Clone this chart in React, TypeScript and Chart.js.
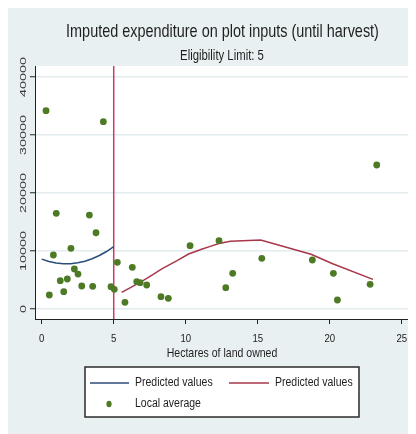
import React, { useEffect, useRef } from 'react';
import { Chart, registerables } from 'chart.js';

Chart.register(...registerables);

const TITLE = 'Imputed expenditure on plot inputs (until harvest)';
const SUBTITLE = 'Eligibility Limit: 5';
const X_TITLE = 'Hectares of land owned';
const ELIGIBILITY_LIMIT = 5;
const X_TICKS = [0, 5, 10, 15, 20, 25];
const Y_TICKS = [0, 10000, 20000, 30000, 40000];

const LEGEND_LABELS = ['Predicted values', 'Predicted values', 'Local average'];

// Local average (scatter)
const localAvgX = [0.3, 4.28, 1.01, 3.31, 3.77, 2.03, 0.81, 5.25, 2.27, 2.52, 1.29, 1.78, 2.78, 3.54, 4.81, 5.04, 1.53, 0.53, 5.78, 6.29, 6.6, 6.83, 7.29, 8.28, 8.79, 10.3, 12.31, 12.78, 13.26, 15.28, 18.79, 20.25, 20.53, 22.8, 23.26];
const localAvgY = [34200, 32300, 16500, 16200, 13150, 10460, 9310, 8050, 6900, 6030, 4880, 5170, 3970, 3910, 3850, 3390, 2990, 2410, 1150, 7190, 4710, 4540, 4140, 2130, 1840, 10920, 11780, 3680, 6150, 8740, 8450, 6150, 1550, 4260, 24830];

// Predicted values, below the limit
const predLeftX = [0, 0.5, 1, 1.5, 2, 2.5, 3, 3.5, 4, 4.5, 5];
const predLeftY = [8600, 8200, 7940, 7810, 7820, 7970, 8250, 8670, 9220, 9910, 10740];

// Predicted values, above the limit
const predRightX = [5.55, 6.7, 7.3, 8.4, 9.4, 10.2, 11.1, 11.7, 12.3, 13.1, 15.2, 18.7, 20.2, 23.0];
const predRightY = [2870, 4430, 5290, 7010, 8330, 9480, 10290, 10800, 11300, 11700, 11900, 9430, 7800, 5100];

const BG = '#e8f0f2';
const BLUE = '#2b4d78';
const RED = '#a8374a';
const GREEN = '#4e7a26';
const VLINE = '#cc3a5e';
const FONT = "'Liberation Sans', Arial, sans-serif";

const toPts = (xs: number[], ys: number[]) => xs.map((x, i) => ({ x, y: ys[i] }));

function txt(
  ctx: CanvasRenderingContext2D,
  text: string,
  x: number,
  y: number,
  size: number,
  sx: number,
  sy: number,
  align: CanvasTextAlign,
  baseline: CanvasTextBaseline,
  color: string,
  rot = 0,
) {
  ctx.save();
  ctx.translate(x, y);
  if (rot) ctx.rotate(rot);
  ctx.scale(sx, sy);
  ctx.font = `${size}px ${FONT}`;
  ctx.textAlign = align;
  ctx.textBaseline = baseline;
  ctx.fillStyle = color;
  ctx.fillText(text, 0, 0);
  ctx.restore();
}

const decoPlugin = {
  id: 'deco',
  beforeDraw(chart: any) {
    const { ctx, chartArea: a, width, height } = chart;
    ctx.save();
    ctx.fillStyle = BG;
    ctx.fillRect(0, 0, width, height);
    ctx.fillStyle = '#ffffff';
    ctx.fillRect(a.left, a.top, a.right - a.left, a.bottom - a.top);
    ctx.restore();
  },
  beforeDatasetsDraw(chart: any) {
    const { ctx, chartArea: a, scales } = chart;
    const x = scales.x.getPixelForValue(ELIGIBILITY_LIMIT);
    ctx.save();
    ctx.strokeStyle = VLINE;
    ctx.lineWidth = 1.5;
    ctx.beginPath();
    ctx.moveTo(x, a.top);
    ctx.lineTo(x, a.bottom);
    ctx.stroke();
    ctx.restore();
  },
  afterDraw(chart: any) {
    const { ctx, chartArea: a, scales } = chart;
    const ds = chart.data.datasets;

    // titles
    txt(ctx, TITLE, 214.5, 30.7, 18.5, 0.78, 1, 'center', 'alphabetic', '#1f1f1f');
    txt(ctx, SUBTITLE, 214, 54, 14, 0.81, 1, 'center', 'alphabetic', '#1f1f1f');

    // x tick labels
    X_TICKS.forEach((v) => {
      txt(ctx, String(v), scales.x.getPixelForValue(v), 335.7, 11.6, 0.83, 1, 'center', 'alphabetic', '#222');
    });
    // y tick labels (rotated, squeezed across the text)
    Y_TICKS.forEach((v) => {
      txt(ctx, String(v), 18, scales.y.getPixelForValue(v), 14.4, 1, 0.66, 'center', 'alphabetic', '#3a3a3a', -Math.PI / 2);
    });
    // x axis title
    txt(ctx, X_TITLE, (a.left + a.right) / 2, 350.7, 13.5, 0.78, 1, 'center', 'alphabetic', '#1f1f1f');

    // legend box
    ctx.save();
    const bx = 77, by = 361, bw = 274, bh = 50;
    ctx.fillStyle = '#ffffff';
    ctx.fillRect(bx, by, bw, bh);
    ctx.strokeStyle = '#2a2a2a';
    ctx.lineWidth = 1.5;
    ctx.strokeRect(bx, by, bw, bh);

    const r1 = 377, r2 = 398;
    ctx.lineWidth = 1.5;
    ctx.strokeStyle = ds[0].borderColor;
    ctx.beginPath(); ctx.moveTo(82, r1); ctx.lineTo(121, r1); ctx.stroke();
    ctx.strokeStyle = ds[1].borderColor;
    ctx.beginPath(); ctx.moveTo(221, r1); ctx.lineTo(261, r1); ctx.stroke();
    ctx.fillStyle = ds[2].backgroundColor;
    ctx.beginPath(); ctx.ellipse(101, r2, 2.6, 3.2, 0, 0, Math.PI * 2); ctx.fill();
    ctx.restore();

    txt(ctx, LEGEND_LABELS[0], 127, r1, 12.5, 0.84, 1, 'left', 'middle', '#1f1f1f');
    txt(ctx, LEGEND_LABELS[1], 267, r1, 12.5, 0.84, 1, 'left', 'middle', '#1f1f1f');
    txt(ctx, LEGEND_LABELS[2], 127, r2, 12.5, 0.84, 1, 'left', 'middle', '#1f1f1f');
  },
};

export default function App() {
  const ref = useRef<HTMLCanvasElement>(null);
  useEffect(() => {
    if (!ref.current) return;
    Chart.defaults.font.family = FONT;
    const chart = new Chart(ref.current, {
      type: 'scatter',
      data: {
        datasets: [
          {
            label: LEGEND_LABELS[0],
            data: toPts(predLeftX, predLeftY),
            showLine: true,
            borderColor: BLUE,
            backgroundColor: BLUE,
            borderWidth: 1.5,
            pointRadius: 0,
            tension: 0,
            order: 1,
          },
          {
            label: LEGEND_LABELS[1],
            data: toPts(predRightX, predRightY),
            showLine: true,
            borderColor: RED,
            backgroundColor: RED,
            borderWidth: 1.5,
            pointRadius: 0,
            tension: 0,
            order: 1,
          },
          {
            label: LEGEND_LABELS[2],
            data: toPts(localAvgX, localAvgY),
            showLine: false,
            borderColor: GREEN,
            backgroundColor: GREEN,
            borderWidth: 0,
            pointRadius: 3.4,
            order: 0,
          },
        ],
      },
      options: {
        responsive: false,
        animation: false,
        devicePixelRatio: 1,
        layout: { padding: { top: 60, left: 0, right: 7, bottom: 70 } },
        plugins: {
          legend: { display: false },
          title: { display: false },
          tooltip: { enabled: false },
        },
        scales: {
          x: {
            type: 'linear',
            min: -0.465,
            max: 25.5,
            afterBuildTicks: (s: any) => { s.ticks = X_TICKS.map((v) => ({ value: v })); },
            afterFit: (s: any) => { s.height = 45; },
            grid: { drawOnChartArea: false, drawTicks: true, tickLength: 5, tickColor: '#222', tickWidth: 1 },
            border: { display: true, color: '#222', width: 1 },
            ticks: { display: false },
          },
          y: {
            type: 'linear',
            min: -1724,
            max: 41900,
            afterBuildTicks: (s: any) => { s.ticks = Y_TICKS.map((v) => ({ value: v })); },
            afterFit: (s: any) => { s.width = 27; },
            grid: { color: '#e2ebee', lineWidth: 1.5, drawTicks: true, tickLength: 5, tickColor: '#222', tickWidth: 1 },
            border: { display: true, color: '#222', width: 1 },
            ticks: { display: false },
          },
        },
      },
      plugins: [decoPlugin],
    } as any);
    return () => chart.destroy();
  }, []);
  return (
    <div style={{ width: 408, height: 428, marginTop: -2, background: BG }}>
      <canvas ref={ref} width={408} height={428} style={{ display: 'block' }} />
    </div>
  );
}
